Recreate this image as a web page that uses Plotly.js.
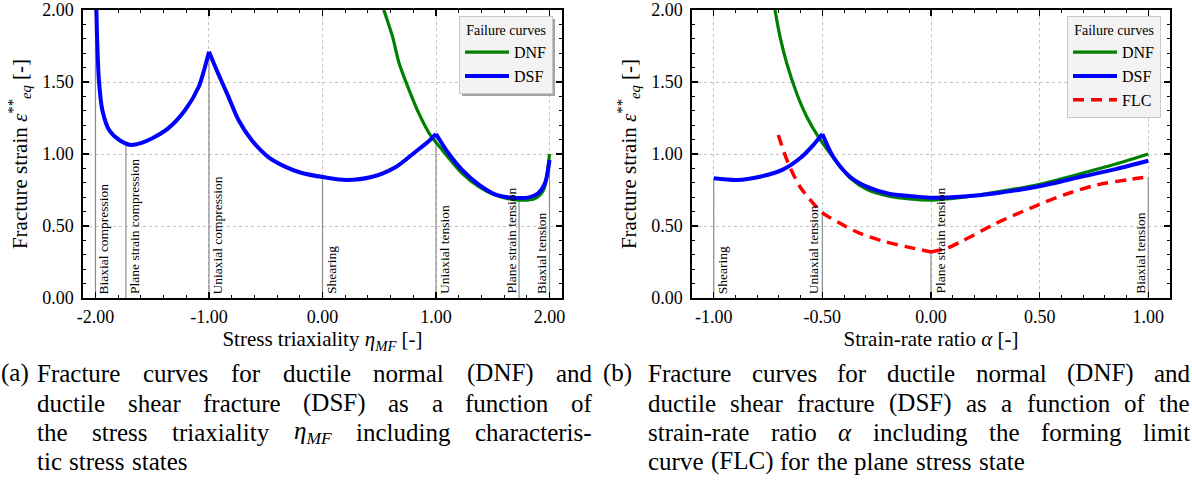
<!DOCTYPE html>
<html>
<head>
<meta charset="utf-8">
<script src="https://cdn.plot.ly/plotly-3.0.1.min.js"></script>
<style>
html,body{margin:0;padding:0;background:#fff;}
#chart{width:1192px;height:488px;}
</style>
</head>
<body>
<div id="chart"></div>
<script>
// ---------------- data ----------------
// (a) stress triaxiality
const dsfA_eta = [-1.992, -1.985, -1.97, -1.94, -1.88, -1.79, -1.69, -1.60, -1.50, -1.36, -1.21, -1.09, -1.035, -1.0,
  -0.92, -0.83, -0.74, -0.625, -0.48, -0.33, -0.19, 0.02, 0.21, 0.44, 0.65, 0.82, 0.93, 1.0,
  1.11, 1.23, 1.38, 1.52, 1.67, 1.82, 1.90, 1.96, 2.0];
const dsfA_eps = [2.0, 1.79, 1.514, 1.306, 1.167, 1.097, 1.063, 1.075, 1.109, 1.178, 1.306, 1.467, 1.606, 1.71,
  1.56, 1.40, 1.236, 1.097, 0.98, 0.912, 0.87, 0.838, 0.82, 0.842, 0.912, 1.016, 1.085, 1.139,
  1.005, 0.889, 0.785, 0.72, 0.697, 0.699, 0.727, 0.796, 0.958];
const dsfA_kinks = [-1.0, 1.0];
const dnfA_eta = [0.54, 0.617, 0.675, 0.763, 0.85, 0.94, 1.055, 1.23, 1.377, 1.52, 1.728, 1.875, 1.947, 2.0];
const dnfA_eps = [2.0, 1.815, 1.63, 1.444, 1.28, 1.144, 1.028, 0.866, 0.773, 0.715, 0.68, 0.692, 0.75, 1.0];
const statesA_pos = [-2.0, -1.732, -1.0, 0.0, 1.0, 1.732, 2.0];
const statesA_top = [2.0, 1.063, 1.71, 0.838, 1.139, 0.697, 0.958];
const statesA_names = ["Biaxial compression", "Plane strain compression", "Uniaxial compression", "Shearing",
  "Uniaxial tension", "Plane strain tension", "Biaxial tension"];
const statesA_side = ["right", "right", "right", "right", "right", "left", "left"];
const ticksA_x = [-2, -1, 0, 1, 2];
const ticksA_xtext = ["-2.00", "-1.00", "0.00", "1.00", "2.00"];

// (b) strain-rate ratio
const dsfB_alpha = [-1.0, -0.894, -0.787, -0.68, -0.603, -0.542, -0.5, -0.45, -0.373, -0.296, -0.189, -0.066, 0.0,
  0.15, 0.3, 0.5, 0.7, 0.85, 1.0];
const dsfB_eps = [0.831, 0.819, 0.842, 0.893, 0.97, 1.062, 1.139, 0.981, 0.842, 0.773, 0.722, 0.704, 0.697,
  0.705, 0.728, 0.776, 0.845, 0.895, 0.953];
const dsfB_kinks = [-0.5];
const dnfB_alpha = [-0.718, -0.695, -0.664, -0.618, -0.572, -0.519, -0.45, -0.373, -0.296, -0.189, -0.1, 0.0,
  0.15, 0.3, 0.5, 0.7, 0.85, 1.0];
const dnfB_eps = [2.0, 1.815, 1.63, 1.42, 1.259, 1.12, 0.975, 0.835, 0.755, 0.705, 0.688, 0.68,
  0.70, 0.735, 0.79, 0.868, 0.93, 1.0];
const flcB_alpha = [-0.703, -0.657, -0.603, -0.542, -0.496, -0.419, -0.327, -0.22, -0.11, 0.0,
  0.072, 0.149, 0.30, 0.456, 0.609, 0.763, 0.916, 1.0];
const flcB_eps = [1.132, 0.935, 0.773, 0.657, 0.588, 0.519, 0.449, 0.395, 0.355, 0.32,
  0.345, 0.40, 0.519, 0.623, 0.715, 0.785, 0.824, 0.842];
const flcB_kinks = [0.0];
const statesB_pos = [-1.0, -0.5, 0.0, 1.0];
const statesB_top = [0.831, 0.588, 0.32, 0.842];
const statesB_names = ["Shearing", "Uniaxial tension", "Plane strain tension", "Biaxial tension"];
const statesB_side = ["right", "left", "right", "left"];
const ticksB_x = [-1, -0.5, 0, 0.5, 1];
const ticksB_xtext = ["-1.00", "-0.50", "0.00", "0.50", "1.00"];

const ticks_y = [0, 0.5, 1, 1.5, 2];
const ticks_ytext = ["0.00", "0.50", "1.00", "1.50", "2.00"];

const seriesNames = ["DNF", "DSF", "FLC"];
const legendTitle = "Failure curves";
const yTitle = "Fracture strain <i>ε</i><sup>**</sup><sub><i>eq</i></sub> [-]";
const xTitleA = "Stress triaxiality <i>η</i><sub><i>MF</i></sub> [-]";
const xTitleB = "Strain-rate ratio <i>α</i> [-]";
const captionA = ["(a)",
  "Fracture curves for ductile normal (DNF) and",
  "ductile shear fracture (DSF) as a function of",
  "the stress triaxiality <i>η</i><sub><i>MF</i></sub> including characteris-",
  "tic stress states"];
const captionB = ["(b)",
  "Fracture curves for ductile normal (DNF) and",
  "ductile shear fracture (DSF) as a function of the",
  "strain-rate ratio <i>α</i> including the forming limit",
  "curve (FLC) for the plane stress state"];

// ---------------- styling / layout ----------------
const W = 1192, H = 488;
const FONT = 'Liberation Serif';
const px = v => v / W, py = v => 1 - v / H;
const GREEN = '#008000', BLUE = '#0000ff', RED = '#ff0000', GRAY = '#8c8c8c';

function markerTrace(pos, top, xa, ya) {
  const xs = [], ys = [];
  pos.forEach((p, i) => { xs.push(p, p, null); ys.push(0, top[i], null); });
  return {x: xs, y: ys, xaxis: xa, yaxis: ya, mode: 'lines', line: {color: GRAY, width: 1.2},
    showlegend: false, hoverinfo: 'skip'};
}

// split a curve at its kinks, each smooth piece drawn as a spline
function curvePieces(xs, ys, kinks, base) {
  const out = [];
  let cur = {x: [], y: []};
  xs.forEach((x, i) => {
    cur.x.push(x); cur.y.push(ys[i]);
    if (kinks.includes(x) && i > 0 && i < xs.length - 1) {
      out.push(cur); cur = {x: [x], y: [ys[i]]};
    }
  });
  out.push(cur);
  return out.map((p, k) => Object.assign({}, base, {x: p.x, y: p.y, mode: 'lines',
    showlegend: k === 0, legendgroup: base.name + base.legend,
    line: Object.assign({}, base.line, {shape: 'spline', smoothing: 0.8})}));
}

const traces = [
  markerTrace(statesA_pos, statesA_top, 'x', 'y'),
  markerTrace(statesB_pos, statesB_top, 'x2', 'y2'),
  ...curvePieces(dnfA_eta, dnfA_eps, [], {xaxis: 'x', yaxis: 'y', name: seriesNames[0],
    line: {color: GREEN, width: 3.2}, legend: 'legend'}),
  ...curvePieces(dsfA_eta, dsfA_eps, dsfA_kinks, {xaxis: 'x', yaxis: 'y', name: seriesNames[1],
    line: {color: BLUE, width: 4}, legend: 'legend'}),
  ...curvePieces(dnfB_alpha, dnfB_eps, [], {xaxis: 'x2', yaxis: 'y2', name: seriesNames[0],
    line: {color: GREEN, width: 3.2}, legend: 'legend2'}),
  ...curvePieces(dsfB_alpha, dsfB_eps, dsfB_kinks, {xaxis: 'x2', yaxis: 'y2', name: seriesNames[1],
    line: {color: BLUE, width: 4}, legend: 'legend2'}),
  ...curvePieces(flcB_alpha, flcB_eps, flcB_kinks, {xaxis: 'x2', yaxis: 'y2', name: seriesNames[2],
    line: {color: RED, width: 3.5, dash: '11px,7px'}, legend: 'legend2'})
];

function axisBase() {
  return {
    showline: true, linecolor: '#000', linewidth: 1.6, mirror: 'allticks',
    ticks: 'inside', ticklen: 6, tickwidth: 1.2, tickcolor: '#000',
    showgrid: true, gridcolor: '#c4c4c4', griddash: 'dot', gridwidth: 1,
    zeroline: false, tickmode: 'array',
    tickfont: {family: FONT, size: 18, color: '#000'},
    fixedrange: true, ticklabelstandoff: 4
  };
}
function minor(d) { return {ticks: 'inside', ticklen: 3, tickwidth: 1, tickcolor: '#000', showgrid: false, tick0: 0, dtick: d}; }
const yDom = [1 - 298 / H, 1 - 10 / H];
const titleFont = {family: FONT, size: 21, color: '#000'};

const xaxis = Object.assign(axisBase(), {domain: [px(83), px(562)], range: [-2.11, 2.11],
  tickvals: ticksA_x, ticktext: ticksA_xtext, minor: minor(0.2), anchor: 'y', ticklabelstandoff: 2,
  title: {text: xTitleA, font: titleFont, standoff: 5}});
const xaxis2 = Object.assign(axisBase(), {domain: [px(692), px(1170)], range: [-1.1, 1.1],
  tickvals: ticksB_x, ticktext: ticksB_xtext, minor: minor(0.1), anchor: 'y2', ticklabelstandoff: 2,
  title: {text: xTitleB, font: titleFont, standoff: 5}});
const yaxis = Object.assign(axisBase(), {domain: yDom, range: [0, 2],
  tickvals: ticks_y, ticktext: ticks_ytext, minor: minor(0.1), anchor: 'x',
  title: {text: yTitle, font: titleFont, standoff: 9}});
const yaxis2 = Object.assign(axisBase(), {domain: yDom, range: [0, 2],
  tickvals: ticks_y, ticktext: ticks_ytext, minor: minor(0.1), anchor: 'x2',
  title: {text: yTitle, font: titleFont, standoff: 9}});

const annotations = [];
function stateLabels(pos, names, side, xr, yr) {
  pos.forEach((p, i) => {
    annotations.push({x: p, y: 0, xref: xr, yref: yr, text: names[i], showarrow: false, textangle: -90,
      xanchor: side[i] === 'right' ? 'left' : 'right', yanchor: 'bottom',
      xshift: side[i] === 'right' ? 1 : -1, yshift: 4, borderpad: 0, borderwidth: 0,
      font: {family: FONT, size: 13.5, color: '#000'}});
  });
}
stateLabels(statesA_pos, statesA_names, statesA_side, 'x', 'y');
stateLabels(statesB_pos, statesB_names, statesB_side, 'x2', 'y2');

// ---- justified captions (word widths measured in the same font) ----
const CAP_SIZE = 25;
const meas = document.createElement('span');
meas.style.cssText = 'position:absolute;visibility:hidden;white-space:nowrap;left:-9999px;top:0;font-family:' + FONT + ';font-size:' + CAP_SIZE + 'px;';
document.body.appendChild(meas);
function textWidth(html) {
  meas.innerHTML = html.replace(/<sub>/g, '<span style="font-size:70%">').replace(/<\/sub>/g, '</span>');
  return meas.getBoundingClientRect().width;
}
const spaceW = textWidth('a a') - textWidth('aa');
function caption(lines, labelX, left, right, ys) {
  annotations.push({x: px(labelX), y: py(ys[0]), xref: 'paper', yref: 'paper', text: lines[0], showarrow: false,
    xanchor: 'left', yanchor: 'middle', borderpad: 0, borderwidth: 0, font: {family: FONT, size: CAP_SIZE, color: '#000'}});
  for (let li = 1; li < lines.length; li++) {
    const words = lines[li].split(' ');
    const ws = words.map(textWidth);
    const total = ws.reduce((a, b) => a + b, 0);
    const last = li === lines.length - 1;
    const gap = last ? spaceW * 1.15 : (right - left - total) / (words.length - 1);
    let xpos = left;
    words.forEach((w, k) => {
      annotations.push({x: px(xpos), y: py(ys[li - 1]), xref: 'paper', yref: 'paper', text: w, showarrow: false,
        xanchor: 'left', yanchor: 'middle', borderpad: 0, borderwidth: 0,
        font: {family: FONT, size: CAP_SIZE, color: '#000'}});
      xpos += ws[k] + gap;
    });
  }
}
const capY = [373, 403, 432, 461];
caption(captionA, 1, 37, 592, capY);
caption(captionB, 603, 648, 1190, capY);
meas.remove();

const legendBase = {
  bgcolor: '#f3f3f3', bordercolor: '#c8c8c8', borderwidth: 1,
  font: {family: FONT, size: 16, color: '#000'},
  title: {text: legendTitle, side: 'top center', font: {family: FONT, size: 14, color: '#000'}},
  xanchor: 'left', yanchor: 'top', itemwidth: 44, tracegroupgap: 0
};

const layout = {
  width: W, height: H,
  margin: {l: 0, r: 0, t: 0, b: 0},
  paper_bgcolor: '#fff', plot_bgcolor: '#fff',
  font: {family: FONT, color: '#000'},
  xaxis, yaxis, xaxis2, yaxis2,
  legend: Object.assign({}, legendBase, {x: px(459), y: py(16)}),
  legend2: Object.assign({}, legendBase, {x: px(1067), y: py(16)}),
  annotations,
  showlegend: true
};

Plotly.newPlot('chart', traces, layout, {displayModeBar: false, staticPlot: true}).then(gd => {
  // soft drop shadow behind each legend box
  const svgRect = gd.querySelector('.main-svg').getBoundingClientRect();
  const shapes = [];
  gd.querySelectorAll('.infolayer .legend .bg').forEach(bg => {
    const r = bg.getBoundingClientRect();
    const x0 = r.left - svgRect.left + 2.5, y0 = r.top - svgRect.top + 2.5;
    shapes.push({type: 'rect', xref: 'paper', yref: 'paper', layer: 'above',
      x0: px(x0), x1: px(x0 + r.width), y0: py(y0), y1: py(y0 + r.height),
      fillcolor: 'rgba(90,90,90,0.55)', line: {width: 0}});
  });
  return Plotly.relayout(gd, {shapes});
});
</script>
</body>
</html>
